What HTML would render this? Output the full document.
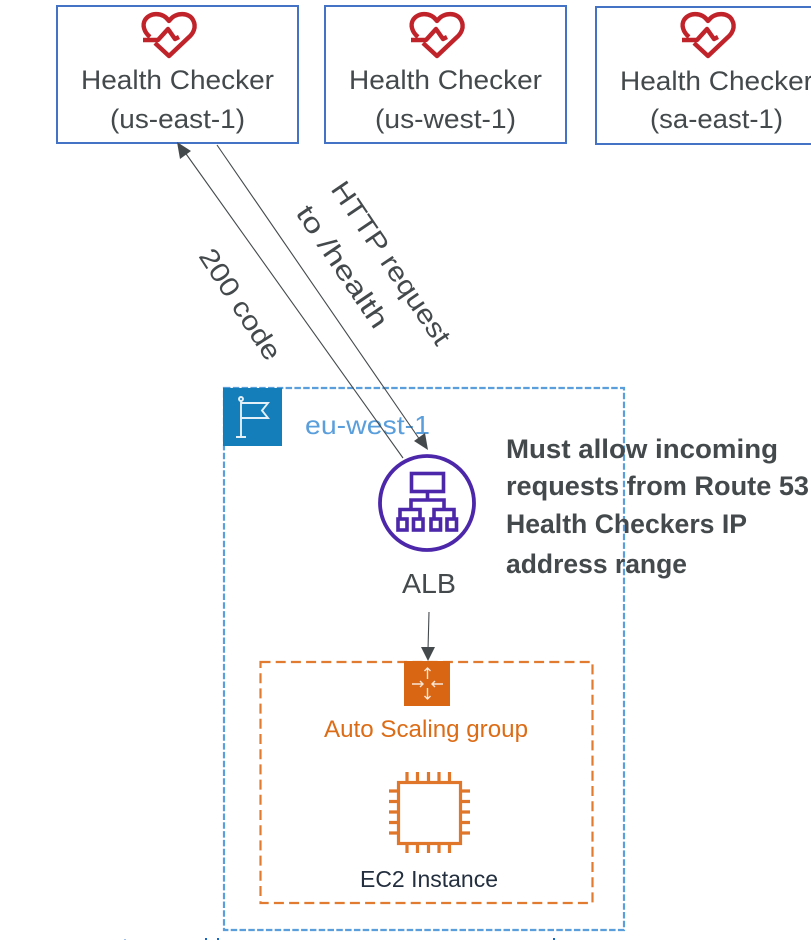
<!DOCTYPE html>
<html><head><meta charset="utf-8">
<style>
html,body{margin:0;padding:0;background:#fff;width:811px;height:940px;overflow:hidden}
svg{display:block}
text{font-family:"Liberation Sans",sans-serif;fill:#444a4c}
</style></head>
<body>
<svg width="811" height="940" viewBox="0 0 811 940" xmlns="http://www.w3.org/2000/svg">
<defs>
<g id="heart" fill="none" stroke="#c0232a" stroke-width="4.4" stroke-linejoin="round">
<path d="M150 37C144 32 142 25 145 20C149 13 162 11 169 21C176 11 190 13 193 20C197 27 193 34 188 38L169 56L155 43"/>
<path d="M143 40H158L168 29L175 39L179 37"/>
</g>
</defs>

<!-- Region -->
<rect x="224" y="388" width="400" height="542" fill="none" stroke="#5a9fdc" stroke-width="2.2" stroke-dasharray="6.5 2.3"/>
<rect x="223" y="388" width="59" height="58" fill="#147ebb"/>
<g fill="none" stroke="#e4f0f7" stroke-width="1.9">
<circle cx="241" cy="399" r="2"/>
<path d="M241 401V437M236 437H246M241 403H268L262 410.500L268 418H241"/>
</g>
<text x="305" y="434" font-size="26" style="fill:#5a9fdc" textLength="125" lengthAdjust="spacingAndGlyphs">eu-west-1</text>

<!-- Health checkers -->
<rect x="57" y="6" width="241" height="137" fill="#fff" stroke="#4472c4" stroke-width="2"/>
<rect x="325" y="6" width="241" height="137" fill="#fff" stroke="#4472c4" stroke-width="2"/>
<rect x="596" y="7" width="240" height="137" fill="#fff" stroke="#4472c4" stroke-width="2"/>
<use href="#heart"/>
<use href="#heart" x="268"/>
<use href="#heart" x="539"/>
<g font-size="27">
<text x="81" y="89" textLength="193" lengthAdjust="spacingAndGlyphs">Health Checker</text>
<text x="110" y="128" textLength="135" lengthAdjust="spacingAndGlyphs">(us-east-1)</text>
<text x="349" y="89" textLength="193" lengthAdjust="spacingAndGlyphs">Health Checker</text>
<text x="375" y="128" textLength="141" lengthAdjust="spacingAndGlyphs">(us-west-1)</text>
<text x="620" y="90" textLength="193" lengthAdjust="spacingAndGlyphs">Health Checker</text>
<text x="650" y="128" textLength="133" lengthAdjust="spacingAndGlyphs">(sa-east-1)</text>
</g>

<!-- Arrows -->
<g stroke="#444a4c" stroke-width="1.1" fill="#444a4c">
<line x1="403" y1="458" x2="184" y2="151"/>
<path d="M177 142L191 151L180 159Z" stroke="none"/>
<line x1="217" y1="145" x2="420" y2="440"/>
<path d="M428 450L414 441L425 433Z" stroke="none"/>
<line x1="429" y1="612" x2="428" y2="650"/>
<path d="M428 661L421 647H435Z" stroke="none"/>
</g>

<text transform="translate(330 189) rotate(55.9)" font-size="27" textLength="191" lengthAdjust="spacingAndGlyphs">HTTP request</text>
<text transform="translate(295 213) rotate(55.9)" font-size="27" textLength="142" lengthAdjust="spacingAndGlyphs">to /health</text>
<text transform="translate(198 256) rotate(57)" font-size="27" textLength="127" lengthAdjust="spacingAndGlyphs">200 code</text>

<!-- ALB -->
<circle cx="427" cy="503" r="47" fill="#fff" stroke="#4d27aa" stroke-width="3.8"/>
<g fill="none" stroke="#4d27aa" stroke-width="3.6">
<rect x="411.500" y="473.500" width="32" height="18"/>
<path d="M427.500 492V500M411 509V500H444V509M400 519V509.500H420V519M434 519V509.500H454V519"/>
<rect x="398" y="519" width="9" height="11"/>
<rect x="413.500" y="519" width="9.500" height="11"/>
<rect x="431" y="519" width="9.500" height="11"/>
<rect x="447" y="519" width="9.500" height="11"/>
</g>
<text x="402" y="593" font-size="28" textLength="54" lengthAdjust="spacingAndGlyphs">ALB</text>

<!-- Note -->
<g font-size="27" font-weight="bold">
<text x="506" y="458" textLength="272" lengthAdjust="spacingAndGlyphs">Must allow incoming</text>
<text x="506" y="495" textLength="303" lengthAdjust="spacingAndGlyphs">requests from Route 53</text>
<text x="506" y="533" textLength="241" lengthAdjust="spacingAndGlyphs">Health Checkers IP</text>
<text x="506" y="573" textLength="181" lengthAdjust="spacingAndGlyphs">address range</text>
</g>

<!-- ASG -->
<rect x="260.500" y="662" width="332" height="241" fill="none" stroke="#e07b30" stroke-width="2.2" stroke-dasharray="10 5.200"/>
<rect x="404" y="661" width="46" height="45" fill="#d86613"/>
<g fill="none" stroke="#fbe6d6" stroke-width="1.4">
<path d="M427.500 679V668M424.500 671L427.500 668L430.500 671M427.500 688V699M424.500 696L427.500 699L430.500 696"/>
<path d="M412 684H423M420 681L423 684L420 687M443 684H432M435 681L432 684L435 687"/>
</g>
<text x="324" y="737" font-size="24" style="fill:#dc6c16" textLength="204" lengthAdjust="spacingAndGlyphs">Auto Scaling group</text>

<!-- EC2 -->
<g fill="none" stroke="#e0762a" stroke-width="3.200">
<rect x="398.500" y="782.500" width="62" height="61"/>
<path d="M407 772V782M417.500 772V782M428.500 772V782M439 772V782M449.500 772V782M407 844V853M417.500 844V853M428.500 844V853M439 844V853M449.500 844V853M389 791H398M389 801.500H398M389 812H398M389 822.500H398M389 833H398M461 791H470M461 801.500H470M461 812H470M461 822.500H470M461 833H470"/>
</g>
<text x="360" y="887" font-size="23" style="fill:#232f3e" textLength="138" lengthAdjust="spacingAndGlyphs">EC2 Instance</text>

<!-- clipped line at the bottom edge -->
<g fill="#1565c8">
<rect x="124" y="939" width="2" height="1" opacity=".4"/>
<rect x="205" y="938" width="2" height="2"/>
<rect x="217" y="938" width="2" height="2"/>
<rect x="553" y="938" width="2" height="2"/>
</g>
</svg>
</body></html>
